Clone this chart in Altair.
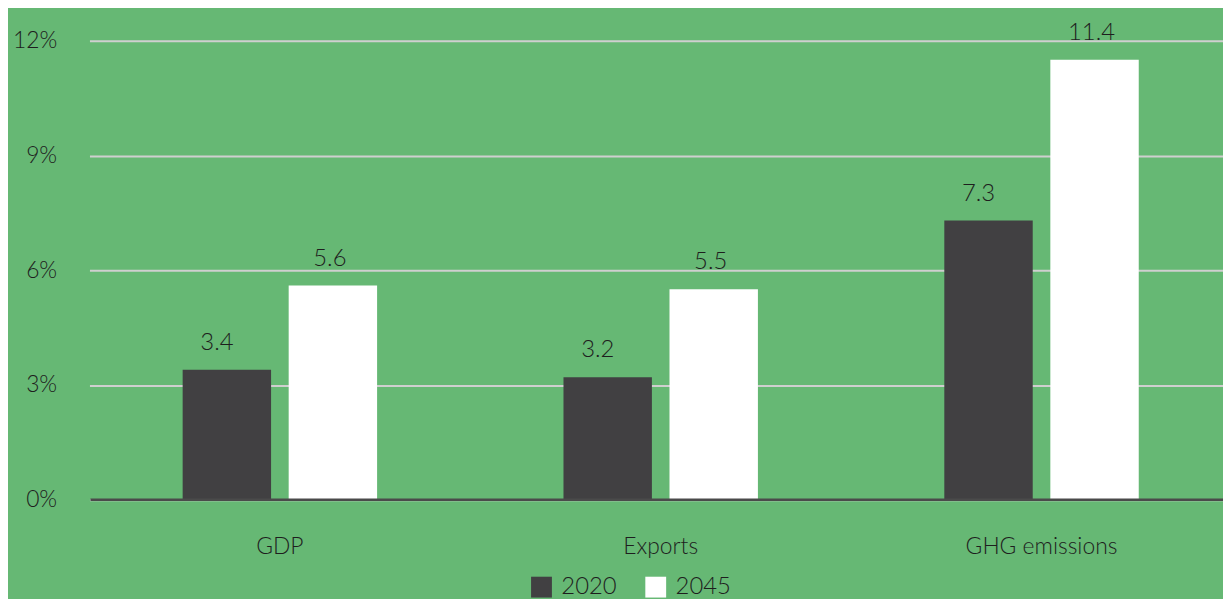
import altair as alt
import pandas as pd

categories = ["GDP", "Exports", "GHG emissions"]
years = ["2020", "2045"]
# bar heights
values_2020 = [3.4, 3.2, 7.3]
values_2045 = [5.6, 5.5, 11.5]
# data labels as printed on the picture
labels_2020 = ["3.4", "3.2", "7.3"]
labels_2045 = ["5.6", "5.5", "11.4"]

rows = []
for c, a, b, la, lb in zip(categories, values_2020, values_2045, labels_2020, labels_2045):
    rows.append({"category": c, "year": "2020", "value": a, "label": la})
    rows.append({"category": c, "year": "2045", "value": b, "label": lb})
df = pd.DataFrame(rows)

FONT = "Lato"
FW = 300
BG = "#66b874"
TXT = "#1e1e1e"

xscale = alt.Scale(paddingInner=0, paddingOuter=0, range=[-1, 1149])
x = alt.X("category:N", sort=categories, title=None, scale=xscale,
          axis=alt.Axis(labelFontSize=23, labelColor=TXT, labelFont=FONT,
                        labelFontWeight=FW, labelPadding=36, ticks=False,
                        domain=False, labelAngle=0))
xo = alt.XOffset("year:N", sort=years,
                 scale=alt.Scale(paddingInner=0.168, paddingOuter=0.88))
y = alt.Y("value:Q", title=None,
          scale=alt.Scale(domain=[0, 12], nice=False),
          axis=alt.Axis(values=[0, 3, 6, 9, 12], labelExpr="datum.value + '%'",
                        labelFontSize=23, labelColor=TXT, labelFont=FONT,
                        labelFontWeight=FW, labelPadding=34, ticks=False, domain=False,
                        gridColor="#cfcfcf", gridWidth=2))
color = alt.Color("year:N", sort=years,
                  scale=alt.Scale(domain=years, range=["#414042", "#ffffff"]),
                  legend=alt.Legend(title=None, orient="none", direction="horizontal",
                                    legendX=442, legendY=538,
                                    symbolType="square", symbolSize=440,
                                    symbolStrokeWidth=0, labelFontSize=24,
                                    labelFont=FONT, labelFontWeight=FW,
                                    labelColor=TXT, columnPadding=27,
                                    symbolOffset=0, labelOffset=8))

base_line = alt.Chart(pd.DataFrame({"v": [0]})).mark_rule(
    color="#4a4a4a", strokeWidth=2.5).encode(y=alt.Y("v:Q"))
bars = alt.Chart(df).mark_bar(size=89).encode(x=x, xOffset=xo, y=y, color=color)


def label_layer(year, dx):
    return alt.Chart(df).transform_filter(alt.datum.year == year).mark_text(
        fontSize=24, font=FONT, fontWeight=FW, color=TXT,
        baseline="alphabetic", dy=-20, dx=dx).encode(
        x=alt.X("category:N", sort=categories),
        xOffset=alt.XOffset("year:N", sort=years),
        y="value:Q", text="label:N")


chart = (bars + base_line + label_layer("2020", -10) + label_layer("2045", -3)).properties(
    width=1140, height=462, background=BG,
    autosize=alt.AutoSizeParams(type="none"),
    padding={"left": 83, "top": 31, "right": 0, "bottom": 98},
).configure_view(stroke=None)

chart.save("out.html", embed_options={"renderer": "svg", "actions": False})
